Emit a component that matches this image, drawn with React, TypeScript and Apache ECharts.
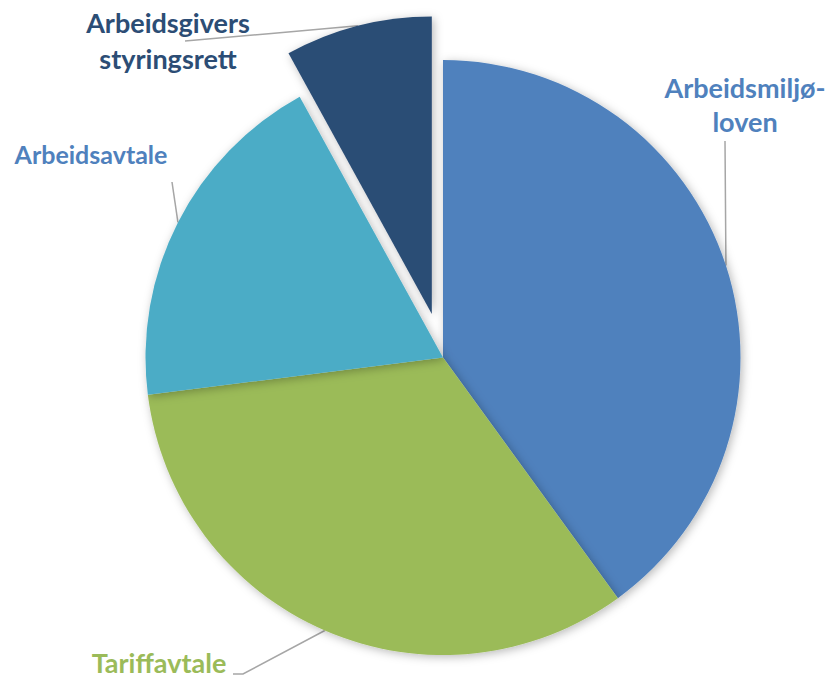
import React, { useEffect, useRef } from 'react';
import * as echarts from 'echarts';

const categories = ['Arbeidsmiljø-\nloven', 'Tariffavtale', 'Arbeidsavtale', 'Arbeidsgivers\nstyringsrett'];
const values = [40, 33, 19, 8];
const sliceColors = ['#4F81BD', '#9BBB59', '#4BACC6', '#2C4D75'];
const labelColors = ['#4F81BD', '#9BBB59', '#4F81BD', '#2C4D75'];
const labelFontSizes = [27, 27, 25, 27];
const labelLineHeights = [34, 34, 30, 36];
const exploded = [false, false, false, true];

// label anchor (centre of text block), optional elbow, and end of the leader line
const labelAnchors = [
  { x: 745, y: 104, elbow: null as number[] | null, end: [725, 141] },
  { x: 159, y: 662, elbow: [243, 674] as number[] | null, end: [233, 674] },
  { x: 91, y: 154, elbow: null as number[] | null, end: [172, 182] },
  { x: 168, y: 40, elbow: null as number[] | null, end: [185, 41] },
];

const CX = 443;
const CY = 357.5;
const R = 297.5;
const EXPLODE = 45;

export default function App() {
  const ref = useRef<HTMLDivElement>(null);
  useEffect(() => {
    if (!ref.current) return;
    const chart = echarts.init(ref.current, null, { renderer: 'svg' });
    const total = values.reduce((s, v) => s + v, 0);

    // offset of the exploded slice along its bisector
    let ox = 0;
    let oy = 0;
    let acc = 0;
    values.forEach((v, i) => {
      if (exploded[i]) {
        const mid = ((acc + v / 2) / total) * 2 * Math.PI; // clockwise from top
        ox = EXPLODE * Math.sin(mid);
        oy = -EXPLODE * Math.cos(mid);
      }
      acc += v;
    });

    const makeData = (explodedLayer: boolean) =>
      categories.map((name, i) => {
        const visible = exploded[i] === explodedLayer;
        return {
          name,
          value: values[i],
          itemStyle: visible
            ? { color: sliceColors[i] }
            : { color: 'rgba(0,0,0,0)', shadowBlur: 0, shadowColor: 'rgba(0,0,0,0)' },
          label: visible
            ? {
                show: true,
                color: labelColors[i],
                fontSize: labelFontSizes[i],
                lineHeight: labelLineHeights[i],
              }
            : { show: false },
          labelLine: { show: visible },
        };
      });

    const labelLayout = (params: any) => {
      const a = labelAnchors[params.dataIndex];
      const pts = params.labelLinePoints;
      const p0 = pts && pts[0] ? pts[0] : a.end;
      const elbow = a.elbow || [(p0[0] + a.end[0]) / 2, (p0[1] + a.end[1]) / 2];
      return {
        x: a.x,
        y: a.y,
        align: 'center',
        verticalAlign: 'middle',
        labelLinePoints: [p0, elbow, a.end],
      };
    };

    const base = {
      type: 'pie',
      radius: R,
      startAngle: 90,
      clockwise: true,
      avoidLabelOverlap: false,
      silent: true,
      itemStyle: {
        borderWidth: 0,
        shadowBlur: 10,
        shadowColor: 'rgba(0,0,0,0.28)',
        shadowOffsetX: 2,
        shadowOffsetY: 2,
      },
      label: {
        position: 'outside',
        formatter: '{b}',
        fontFamily: 'Lato',
        fontWeight: 'bold',
        align: 'center',
      },
      labelLine: {
        length: 20,
        length2: 20,
        lineStyle: { color: '#A6A6A6', width: 1.5 },
      },
      emphasis: { disabled: true },
      labelLayout,
    };

    chart.setOption({
      animation: false,
      backgroundColor: '#ffffff',
      series: [
        { ...base, center: [CX, CY], data: makeData(false) },
        { ...base, center: [CX + ox, CY + oy], data: makeData(true) },
      ],
    });
    return () => chart.dispose();
  }, []);
  return (
    <div
      ref={ref}
      style={{ position: 'absolute', left: 0, top: 0, width: 829, height: 677 }}
    />
  );
}
